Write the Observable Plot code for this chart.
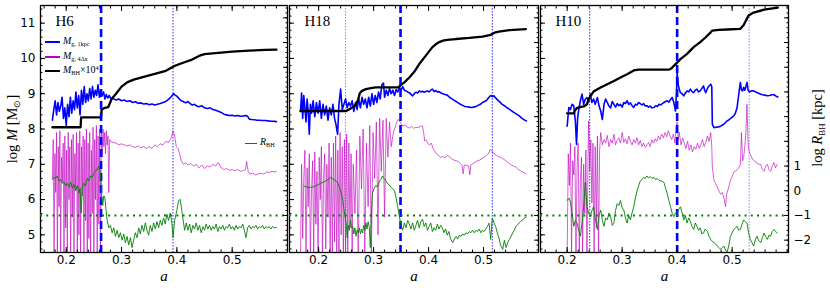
<!DOCTYPE html>
<html><head><meta charset="utf-8">
<script src="https://cdn.jsdelivr.net/npm/d3@7"></script>
<script src="https://cdn.jsdelivr.net/npm/@observablehq/plot@0.6"></script>
<style>
html,body{margin:0;padding:0;background:#fff;}
#root{position:relative;width:830px;height:288px;overflow:hidden;}
#root svg{position:absolute;top:0;}
.t{position:absolute;font-family:"Liberation Serif",serif;color:#000;white-space:nowrap;line-height:1.2;}
.sub{font-size:0.62em;position:relative;top:0.3em}
.sup{font-size:0.62em;position:relative;top:-0.55em}
.rot{transform:translate(-50%,-50%) rotate(-90deg);}
</style></head><body><div id="root"></div>
<script>
// ---------- tick values ----------
const X_TICKS = [0.2, 0.3, 0.4, 0.5];
const M_TICKS = [5, 6, 7, 8, 9, 10, 11];
const R_TICKS = [-2, -1, 0, 1, 2, 3, 4, 5, 6, 7];
const R_LABELED = [-2, -1, 0, 1];
const R_THRESHOLD = [-1];

// ---------- H6 ----------
const H6_BLACK = [[0.175,8.05],[0.226,8.05],[0.227,8.33],[0.263,8.33],[0.264,8.55],[0.27,8.6],[0.276,8.62],[0.282,8.85],[0.29,9.0],[0.3,9.2],[0.31,9.32],[0.322,9.4],[0.34,9.48],[0.36,9.56],[0.38,9.65],[0.395,9.78],[0.41,9.87],[0.425,9.95],[0.44,10.07],[0.45,10.12],[0.47,10.15],[0.5,10.19],[0.53,10.22],[0.56,10.24],[0.58,10.25]];
const H6_BLUE = [[0.175,8.25],[0.1775,8.55],[0.18,8.8],[0.1825,8.4],[0.185,8.75],[0.1875,8.5],[0.19,8.65],[0.1925,8.9],[0.195,8.3],[0.1975,8.6],[0.2,8.1],[0.2025,8.7],[0.205,8.35],[0.2075,8.9],[0.21,8.45],[0.2125,8.8],[0.215,8.55],[0.2175,9.05],[0.22,8.6],[0.2225,8.95],[0.225,8.4],[0.2275,9.1],[0.23,8.7],[0.2325,9.2],[0.235,8.75],[0.2375,9.0],[0.24,8.8],[0.2425,9.15],[0.245,8.85],[0.2475,9.2],[0.25,8.9],[0.2525,9.1],[0.255,8.95],[0.2575,9.25],[0.26,8.9],[0.2625,9.1],[0.265,8.95],[0.2675,9.05],[0.27,8.85],[0.2725,8.98],[0.275,8.88],[0.278,8.95],[0.281,8.84],[0.285,8.87],[0.29,8.82],[0.295,8.85],[0.3,8.8],[0.305,8.82],[0.31,8.78],[0.315,8.8],[0.32,8.75],[0.325,8.77],[0.33,8.73],[0.335,8.74],[0.34,8.71],[0.345,8.72],[0.35,8.69],[0.355,8.71],[0.36,8.68],[0.365,8.7],[0.37,8.72],[0.375,8.75],[0.38,8.78],[0.385,8.84],[0.39,8.92],[0.394,9.0],[0.397,8.96],[0.4,8.93],[0.404,8.86],[0.408,8.8],[0.412,8.77],[0.416,8.74],[0.42,8.78],[0.424,8.72],[0.428,8.68],[0.432,8.7],[0.436,8.65],[0.44,8.63],[0.445,8.66],[0.45,8.6],[0.455,8.58],[0.46,8.6],[0.465,8.55],[0.47,8.53],[0.475,8.5],[0.48,8.47],[0.485,8.42],[0.49,8.4],[0.495,8.38],[0.5,8.39],[0.505,8.37],[0.51,8.38],[0.515,8.36],[0.52,8.37],[0.525,8.38],[0.528,8.36],[0.531,8.28],[0.535,8.27],[0.54,8.26],[0.545,8.25],[0.55,8.25],[0.555,8.24],[0.56,8.24],[0.565,8.23],[0.57,8.22],[0.575,8.22],[0.58,8.21]];
const H6_MAGENTA = [[0.175,6.6],[0.1765,7.7],[0.178,4.4],[0.1795,7.3],[0.181,6.2],[0.1825,7.9],[0.184,4.3],[0.1855,7.5],[0.187,5.8],[0.1885,7.95],[0.19,4.4],[0.1915,7.2],[0.193,6.5],[0.1945,7.6],[0.196,4.5],[0.1975,7.8],[0.199,5.2],[0.2005,7.4],[0.202,4.4],[0.2035,7.9],[0.205,6.0],[0.2065,7.5],[0.208,4.3],[0.2095,7.7],[0.211,5.5],[0.2125,7.85],[0.214,4.4],[0.2155,7.3],[0.217,6.3],[0.2185,7.9],[0.22,4.3],[0.2215,7.6],[0.223,5.0],[0.2245,7.95],[0.226,4.4],[0.2275,7.5],[0.229,6.1],[0.2305,7.8],[0.232,4.3],[0.2335,7.7],[0.235,5.4],[0.2365,8.0],[0.238,4.4],[0.2395,7.6],[0.241,4.9],[0.2425,7.9],[0.244,4.3],[0.2455,7.4],[0.247,5.6],[0.2485,8.05],[0.25,4.4],[0.2515,7.7],[0.253,6.0],[0.2545,8.1],[0.256,4.3],[0.2575,7.8],[0.259,5.3],[0.2605,8.0],[0.262,4.4],[0.2635,7.9],[0.265,7.2],[0.2665,8.0],[0.268,7.5],[0.2695,7.9],[0.271,7.3],[0.2725,7.95],[0.274,7.55],[0.2755,7.8],[0.277,6.2],[0.2785,7.7],[0.28,7.65],[0.285,7.62],[0.29,7.6],[0.295,7.55],[0.3,7.58],[0.305,7.55],[0.31,7.52],[0.315,7.55],[0.32,7.5],[0.325,7.48],[0.33,7.52],[0.335,7.47],[0.34,7.5],[0.345,7.45],[0.35,7.5],[0.355,7.45],[0.36,7.55],[0.365,7.5],[0.37,7.58],[0.375,7.55],[0.38,7.65],[0.385,7.62],[0.39,7.75],[0.393,7.95],[0.396,7.8],[0.399,7.5],[0.402,7.45],[0.405,7.3],[0.408,7.1],[0.412,7.0],[0.416,7.05],[0.42,6.98],[0.425,7.02],[0.43,6.95],[0.435,7.0],[0.44,6.9],[0.445,6.98],[0.45,6.88],[0.455,6.95],[0.46,6.92],[0.465,7.0],[0.47,6.95],[0.475,7.05],[0.48,6.9],[0.485,6.85],[0.49,6.88],[0.495,6.83],[0.5,6.85],[0.505,6.82],[0.51,6.85],[0.515,6.8],[0.52,6.82],[0.524,6.85],[0.526,7.08],[0.529,6.8],[0.532,6.72],[0.537,6.75],[0.542,6.7],[0.547,6.73],[0.552,6.75],[0.557,6.72],[0.562,6.78],[0.567,6.77],[0.572,6.8],[0.577,6.78],[0.58,6.8]];
const H6_GREEN = [[0.175,0.45],[0.178,0.55],[0.181,0.5],[0.184,0.6],[0.187,0.4],[0.19,0.45],[0.193,0.3],[0.196,0.35],[0.199,0.2],[0.202,0.3],[0.205,0.15],[0.208,0.35],[0.211,0.1],[0.214,0.25],[0.217,0.0],[0.22,0.2],[0.223,-0.1],[0.225,0.1],[0.227,-0.9],[0.229,0.15],[0.232,0.3],[0.235,0.2],[0.238,0.5],[0.241,0.4],[0.244,0.6],[0.247,0.55],[0.25,0.7],[0.253,0.8],[0.256,0.85],[0.259,1.0],[0.262,0.7],[0.264,-0.2],[0.266,-0.6],[0.268,-0.2],[0.27,-0.3],[0.272,-0.8],[0.274,-1.2],[0.277,-1.5],[0.28,-1.4],[0.283,-1.7],[0.286,-1.5],[0.289,-1.85],[0.292,-1.6],[0.295,-1.9],[0.298,-1.7],[0.301,-2.0],[0.304,-1.75],[0.307,-2.1],[0.31,-1.85],[0.313,-2.2],[0.316,-1.9],[0.319,-2.3],[0.322,-2.0],[0.325,-1.7],[0.328,-1.9],[0.331,-1.5],[0.334,-1.75],[0.337,-1.4],[0.34,-1.65],[0.343,-1.3],[0.346,-1.6],[0.349,-1.8],[0.352,-1.4],[0.355,-1.65],[0.358,-1.3],[0.361,-1.55],[0.364,-1.25],[0.367,-1.5],[0.37,-1.2],[0.373,-1.4],[0.376,-1.1],[0.379,-1.35],[0.382,-0.95],[0.385,-1.2],[0.388,-0.9],[0.391,-1.3],[0.393,-1.9],[0.396,-1.2],[0.4,-0.8],[0.403,-0.4],[0.406,-0.35],[0.409,-0.8],[0.412,-1.3],[0.414,-1.6],[0.417,-1.3],[0.42,-1.6],[0.423,-1.35],[0.426,-1.7],[0.429,-1.4],[0.432,-1.55],[0.435,-1.3],[0.438,-1.6],[0.441,-1.4],[0.444,-1.7],[0.447,-1.45],[0.45,-1.6],[0.453,-1.35],[0.456,-1.55],[0.459,-1.4],[0.462,-1.6],[0.465,-1.45],[0.468,-1.55],[0.471,-1.35],[0.474,-1.65],[0.477,-1.45],[0.48,-1.55],[0.483,-1.4],[0.486,-1.6],[0.489,-1.45],[0.492,-1.5],[0.495,-1.35],[0.498,-1.55],[0.501,-1.45],[0.504,-1.6],[0.507,-1.4],[0.51,-1.55],[0.513,-1.45],[0.516,-1.5],[0.519,-1.35],[0.522,-1.6],[0.525,-1.9],[0.528,-1.5],[0.531,-1.4],[0.534,-1.55],[0.537,-1.45],[0.54,-1.5],[0.543,-1.4],[0.546,-1.55],[0.549,-1.45],[0.552,-1.5],[0.555,-1.4],[0.558,-1.55],[0.561,-1.45],[0.564,-1.5],[0.567,-1.45],[0.57,-1.55],[0.573,-1.45],[0.576,-1.5],[0.58,-1.48]];

// ---------- H18 ----------
const H18_BLACK = [[0.167,8.51],[0.25,8.51],[0.256,8.56],[0.262,8.62],[0.268,8.7],[0.272,8.84],[0.275,9.02],[0.279,9.08],[0.286,9.13],[0.295,9.16],[0.304,9.18],[0.345,9.18],[0.35,9.25],[0.356,9.32],[0.365,9.46],[0.374,9.62],[0.383,9.84],[0.395,10.08],[0.407,10.32],[0.413,10.4],[0.419,10.46],[0.428,10.51],[0.438,10.53],[0.45,10.55],[0.474,10.58],[0.498,10.62],[0.513,10.67],[0.52,10.73],[0.528,10.76],[0.547,10.8],[0.577,10.83]];
const H18_BLUE = [[0.167,8.5],[0.169,9.02],[0.171,8.3],[0.173,8.95],[0.175,8.6],[0.177,8.2],[0.179,8.85],[0.181,8.5],[0.183,7.85],[0.185,8.7],[0.187,8.45],[0.19,8.8],[0.193,8.35],[0.196,8.75],[0.199,8.45],[0.202,8.8],[0.205,8.3],[0.208,8.7],[0.211,8.4],[0.214,8.65],[0.217,8.25],[0.22,8.6],[0.223,8.4],[0.226,8.7],[0.229,8.3],[0.2315,8.13],[0.2345,7.85],[0.237,8.7],[0.24,9.13],[0.243,8.55],[0.246,8.7],[0.249,8.85],[0.252,8.6],[0.255,8.75],[0.258,8.65],[0.261,8.8],[0.264,8.5],[0.267,8.75],[0.27,8.55],[0.273,8.85],[0.276,8.6],[0.279,8.9],[0.282,8.7],[0.285,8.85],[0.288,8.6],[0.291,8.9],[0.294,8.65],[0.297,9.0],[0.3,8.7],[0.303,8.95],[0.306,8.75],[0.309,9.05],[0.312,8.85],[0.315,9.25],[0.318,9.3],[0.32,8.9],[0.323,9.1],[0.326,8.95],[0.329,9.15],[0.332,9.0],[0.335,9.1],[0.338,8.95],[0.341,9.12],[0.344,9.05],[0.347,9.18],[0.35,9.1],[0.353,9.2],[0.356,9.1],[0.359,9.08],[0.362,9.05],[0.365,9.03],[0.368,8.98],[0.371,8.94],[0.374,9.0],[0.377,9.04],[0.38,9.02],[0.383,9.08],[0.386,9.05],[0.389,9.07],[0.392,9.04],[0.395,9.06],[0.398,9.08],[0.401,9.05],[0.404,9.1],[0.407,9.13],[0.41,9.06],[0.413,9.09],[0.416,9.05],[0.419,9.06],[0.422,9.03],[0.426,9.0],[0.43,8.98],[0.434,8.96],[0.438,8.9],[0.442,8.86],[0.446,8.82],[0.45,8.78],[0.454,8.74],[0.458,8.7],[0.462,8.67],[0.466,8.64],[0.47,8.63],[0.474,8.62],[0.478,8.61],[0.482,8.62],[0.486,8.64],[0.49,8.67],[0.494,8.7],[0.498,8.75],[0.502,8.78],[0.506,8.82],[0.51,8.9],[0.513,8.95],[0.516,8.92],[0.519,8.94],[0.522,8.88],[0.526,8.82],[0.53,8.76],[0.534,8.7],[0.538,8.66],[0.542,8.61],[0.546,8.57],[0.55,8.53],[0.555,8.47],[0.56,8.42],[0.565,8.37],[0.57,8.3],[0.575,8.25],[0.578,8.23]];
const H18_MAGENTA = [[0.167,4.4],[0.169,7.0],[0.171,4.9],[0.173,6.6],[0.175,7.4],[0.177,4.4],[0.179,6.9],[0.181,5.8],[0.183,7.3],[0.185,4.4],[0.187,6.2],[0.189,7.1],[0.191,4.5],[0.193,7.35],[0.195,5.3],[0.197,6.8],[0.199,4.4],[0.201,7.2],[0.203,6.0],[0.205,7.5],[0.207,4.3],[0.209,6.6],[0.211,7.3],[0.213,4.6],[0.215,7.0],[0.217,5.5],[0.219,7.6],[0.221,4.3],[0.223,7.2],[0.225,4.4],[0.227,7.6],[0.229,4.8],[0.231,7.8],[0.233,4.3],[0.235,7.4],[0.237,4.4],[0.239,7.9],[0.241,5.0],[0.243,7.5],[0.245,4.3],[0.247,7.7],[0.249,4.4],[0.251,7.85],[0.253,4.5],[0.255,7.6],[0.257,5.2],[0.259,7.3],[0.261,4.4],[0.263,7.0],[0.266,5.6],[0.269,7.4],[0.272,4.4],[0.275,7.8],[0.278,6.3],[0.281,8.0],[0.284,4.5],[0.287,7.6],[0.29,5.8],[0.293,8.1],[0.296,4.4],[0.299,7.9],[0.302,6.6],[0.305,8.2],[0.308,5.0],[0.311,8.3],[0.314,6.8],[0.317,8.25],[0.32,5.5],[0.323,8.3],[0.326,7.2],[0.329,8.2],[0.332,7.5],[0.336,7.9],[0.34,8.1],[0.344,8.27],[0.347,8.23],[0.35,8.15],[0.353,8.08],[0.357,8.12],[0.361,8.05],[0.365,8.03],[0.369,8.07],[0.373,8.02],[0.377,8.05],[0.381,8.04],[0.385,8.08],[0.389,8.08],[0.391,7.9],[0.393,7.66],[0.396,7.68],[0.399,7.58],[0.402,7.55],[0.405,7.6],[0.408,7.45],[0.411,7.38],[0.414,7.3],[0.418,7.25],[0.422,7.2],[0.426,7.22],[0.43,7.18],[0.434,7.25],[0.438,7.22],[0.442,7.15],[0.446,7.12],[0.45,7.1],[0.454,7.08],[0.458,7.02],[0.461,6.97],[0.463,6.73],[0.465,6.98],[0.469,6.97],[0.473,6.95],[0.475,6.7],[0.477,6.98],[0.481,7.02],[0.485,7.06],[0.489,7.1],[0.493,7.12],[0.497,7.16],[0.501,7.2],[0.505,7.25],[0.509,7.3],[0.512,7.42],[0.515,7.38],[0.519,7.3],[0.523,7.26],[0.527,7.22],[0.531,7.2],[0.535,7.16],[0.539,7.12],[0.543,7.06],[0.547,7.02],[0.551,6.98],[0.555,6.95],[0.559,6.92],[0.563,6.85],[0.567,6.82],[0.571,6.78],[0.575,6.75],[0.577,6.73]];
const H18_GREEN = [[0.173,0.2],[0.177,0.16],[0.181,0.13],[0.185,0.14],[0.189,0.15],[0.193,0.18],[0.197,0.22],[0.201,0.27],[0.205,0.32],[0.209,0.35],[0.213,0.4],[0.217,0.45],[0.222,0.54],[0.226,0.48],[0.23,0.42],[0.234,0.35],[0.238,0.14],[0.241,-0.1],[0.244,-0.4],[0.247,-0.9],[0.25,-1.31],[0.252,-1.9],[0.254,-1.4],[0.256,-1.6],[0.258,-1.2],[0.26,-1.5],[0.262,-1.44],[0.264,-1.75],[0.266,-1.5],[0.268,-1.84],[0.27,-1.6],[0.272,-1.7],[0.274,-1.5],[0.276,-1.75],[0.278,-1.55],[0.28,-1.71],[0.282,-1.4],[0.284,-1.6],[0.286,-1.3],[0.288,-1.55],[0.29,-1.25],[0.292,-1.45],[0.294,-2.3],[0.296,-0.9],[0.298,-0.1],[0.301,0.1],[0.304,0.22],[0.307,0.15],[0.31,0.35],[0.313,0.45],[0.316,0.6],[0.319,0.5],[0.322,0.42],[0.325,0.3],[0.328,0.25],[0.331,0.15],[0.334,0.1],[0.338,0.0],[0.341,-0.3],[0.344,-0.65],[0.347,-1.05],[0.35,-1.4],[0.353,-1.6],[0.356,-1.3],[0.359,-1.5],[0.362,-1.2],[0.365,-1.35],[0.368,-1.55],[0.371,-1.3],[0.374,-1.6],[0.377,-1.4],[0.38,-1.2],[0.383,-1.5],[0.386,-1.25],[0.389,-1.15],[0.392,-1.45],[0.395,-1.3],[0.398,-1.6],[0.401,-1.45],[0.404,-1.3],[0.407,-1.65],[0.41,-1.5],[0.413,-1.6],[0.416,-1.35],[0.419,-1.55],[0.422,-1.4],[0.425,-1.5],[0.428,-1.7],[0.431,-1.55],[0.434,-1.8],[0.437,-1.65],[0.44,-1.95],[0.444,-2.1],[0.447,-1.95],[0.45,-1.85],[0.453,-1.95],[0.456,-1.8],[0.459,-1.85],[0.462,-1.75],[0.465,-1.8],[0.468,-1.7],[0.471,-1.75],[0.474,-1.65],[0.477,-1.7],[0.48,-1.6],[0.483,-1.7],[0.486,-1.6],[0.489,-1.65],[0.492,-1.55],[0.495,-1.7],[0.498,-1.6],[0.501,-1.65],[0.504,-1.55],[0.507,-1.45],[0.51,-1.31],[0.513,-1.97],[0.516,-1.11],[0.519,-1.3],[0.522,-1.45],[0.525,-1.7],[0.528,-1.9],[0.531,-2.2],[0.535,-2.37],[0.538,-2.0],[0.541,-2.3],[0.544,-2.1],[0.547,-1.97],[0.55,-1.85],[0.553,-1.71],[0.556,-1.6],[0.559,-1.44],[0.563,-1.35],[0.567,-1.25],[0.571,-1.18],[0.574,-1.12],[0.577,-1.07]];

// ---------- H10 ----------
const H10_BLACK = [[0.2,8.44],[0.212,8.44],[0.214,8.52],[0.218,8.6],[0.23,8.64],[0.236,8.7],[0.239,8.84],[0.243,8.95],[0.248,9.06],[0.26,9.17],[0.273,9.27],[0.285,9.36],[0.297,9.46],[0.31,9.56],[0.321,9.66],[0.33,9.68],[0.385,9.68],[0.39,9.72],[0.394,9.79],[0.4,9.88],[0.406,9.98],[0.418,10.13],[0.43,10.32],[0.442,10.46],[0.452,10.6],[0.461,10.74],[0.464,10.79],[0.475,10.81],[0.491,10.82],[0.515,10.84],[0.521,10.95],[0.526,11.1],[0.53,11.22],[0.539,11.3],[0.558,11.38],[0.583,11.44]];
const H10_BLUE = [[0.2,8.08],[0.203,8.61],[0.206,8.55],[0.209,8.7],[0.212,8.66],[0.215,8.2],[0.217,7.56],[0.219,8.3],[0.221,8.55],[0.224,8.8],[0.227,8.99],[0.23,8.7],[0.233,8.85],[0.236,8.89],[0.239,8.78],[0.242,8.99],[0.245,8.75],[0.248,8.85],[0.251,8.7],[0.255,8.89],[0.258,8.65],[0.261,8.51],[0.264,8.27],[0.267,8.7],[0.27,8.85],[0.273,8.75],[0.276,8.65],[0.279,8.6],[0.282,8.78],[0.285,8.7],[0.288,8.62],[0.291,8.72],[0.294,8.66],[0.297,8.7],[0.3,8.62],[0.303,8.75],[0.306,8.72],[0.309,8.8],[0.312,8.7],[0.315,8.74],[0.318,8.66],[0.321,8.61],[0.324,8.7],[0.327,8.68],[0.33,8.75],[0.333,8.72],[0.336,8.68],[0.339,8.72],[0.342,8.65],[0.345,8.66],[0.348,8.62],[0.351,8.65],[0.354,8.6],[0.358,8.61],[0.361,8.66],[0.364,8.64],[0.367,8.7],[0.37,8.68],[0.373,8.72],[0.376,8.75],[0.379,8.78],[0.382,8.8],[0.385,8.76],[0.388,8.84],[0.391,8.89],[0.394,8.75],[0.397,8.51],[0.399,9.1],[0.4,9.6],[0.402,9.25],[0.404,9.12],[0.406,9.03],[0.409,9.0],[0.412,8.94],[0.415,9.02],[0.418,9.08],[0.421,9.05],[0.424,9.13],[0.427,9.06],[0.43,9.03],[0.433,9.1],[0.436,9.13],[0.439,9.05],[0.442,9.08],[0.445,9.15],[0.448,9.22],[0.45,9.1],[0.452,9.03],[0.455,9.15],[0.458,9.22],[0.461,9.27],[0.463,9.2],[0.464,8.13],[0.467,8.04],[0.471,8.05],[0.475,8.06],[0.479,8.08],[0.483,8.12],[0.487,8.17],[0.491,8.23],[0.495,8.27],[0.499,8.32],[0.503,8.37],[0.506,8.45],[0.509,8.61],[0.511,8.85],[0.513,9.1],[0.515,9.32],[0.517,9.1],[0.519,9.08],[0.521,9.18],[0.523,9.1],[0.525,9.2],[0.527,9.32],[0.529,9.1],[0.531,9.05],[0.535,9.08],[0.539,9.08],[0.543,9.05],[0.547,9.02],[0.551,8.99],[0.555,8.97],[0.559,8.96],[0.564,8.94],[0.568,8.95],[0.572,8.97],[0.576,8.97],[0.58,8.93],[0.583,8.91]];
const H10_MAGENTA = [[0.2,4.4],[0.202,7.3],[0.204,6.4],[0.206,7.6],[0.208,4.4],[0.21,7.1],[0.212,6.7],[0.214,7.5],[0.216,4.4],[0.218,6.9],[0.22,7.6],[0.222,4.3],[0.224,6.5],[0.226,7.2],[0.228,4.4],[0.23,7.0],[0.232,5.6],[0.234,7.4],[0.236,4.4],[0.238,7.3],[0.239,8.23],[0.241,6.8],[0.243,7.7],[0.245,5.9],[0.247,7.6],[0.249,4.4],[0.251,7.5],[0.253,5.2],[0.255,7.8],[0.257,4.4],[0.259,7.4],[0.261,7.9],[0.264,7.55],[0.267,7.7],[0.27,7.6],[0.273,7.82],[0.276,7.5],[0.279,7.7],[0.282,7.6],[0.285,7.85],[0.288,7.55],[0.291,7.68],[0.294,7.75],[0.297,7.6],[0.3,7.9],[0.303,7.62],[0.306,7.72],[0.309,7.58],[0.312,7.8],[0.315,7.65],[0.318,7.55],[0.321,7.7],[0.324,7.6],[0.327,7.75],[0.33,7.55],[0.333,7.68],[0.336,7.5],[0.339,7.6],[0.342,7.48],[0.345,7.55],[0.348,7.62],[0.351,7.5],[0.354,7.7],[0.357,7.6],[0.36,7.72],[0.363,7.65],[0.366,7.8],[0.369,7.7],[0.372,7.85],[0.375,7.75],[0.378,7.9],[0.381,7.78],[0.384,7.95],[0.387,7.8],[0.39,7.7],[0.393,7.85],[0.396,7.6],[0.398,8.05],[0.4,8.2],[0.402,7.7],[0.404,7.9],[0.407,7.55],[0.41,7.75],[0.413,7.6],[0.416,7.45],[0.419,7.65],[0.422,7.4],[0.425,7.55],[0.428,7.35],[0.431,7.5],[0.434,7.42],[0.437,7.6],[0.44,7.45],[0.443,7.55],[0.446,7.7],[0.449,7.5],[0.452,7.62],[0.455,7.8],[0.458,7.65],[0.461,7.9],[0.463,7.5],[0.464,6.92],[0.467,6.55],[0.47,6.45],[0.473,6.36],[0.476,6.25],[0.479,6.15],[0.482,6.2],[0.485,6.05],[0.488,5.8],[0.49,6.15],[0.493,6.3],[0.496,6.5],[0.5,6.65],[0.503,6.78],[0.506,6.8],[0.509,6.85],[0.512,6.9],[0.515,7.0],[0.517,7.9],[0.519,7.1],[0.521,7.2],[0.523,7.5],[0.525,7.9],[0.527,8.7],[0.529,7.6],[0.531,7.35],[0.534,7.25],[0.537,7.15],[0.54,7.1],[0.544,7.05],[0.548,7.0],[0.552,7.0],[0.555,6.85],[0.558,6.8],[0.561,6.95],[0.564,7.0],[0.567,6.85],[0.57,6.8],[0.573,6.95],[0.576,7.05],[0.579,6.9],[0.582,7.0]];
const H10_GREEN = [[0.2,-0.39],[0.203,-0.3],[0.206,-0.45],[0.209,-0.9],[0.212,-1.44],[0.215,-1.2],[0.218,-1.31],[0.221,-1.6],[0.224,-1.84],[0.227,-1.3],[0.23,-0.65],[0.233,0.34],[0.236,-0.65],[0.239,-0.9],[0.242,-1.05],[0.245,-0.8],[0.248,-0.65],[0.251,-1.1],[0.255,-1.57],[0.258,-1.0],[0.261,-0.78],[0.264,-1.2],[0.267,-1.44],[0.27,-1.1],[0.273,-1.18],[0.276,-0.9],[0.279,-1.05],[0.282,-1.4],[0.285,-1.31],[0.288,-0.8],[0.291,-0.52],[0.294,-0.6],[0.297,-0.39],[0.3,-0.7],[0.303,-0.78],[0.306,-1.1],[0.309,-1.31],[0.312,-1.0],[0.315,-1.18],[0.318,-0.9],[0.321,-0.65],[0.324,-0.3],[0.327,0.0],[0.33,0.2],[0.333,0.4],[0.336,0.45],[0.339,0.54],[0.342,0.5],[0.345,0.6],[0.348,0.52],[0.351,0.58],[0.354,0.5],[0.358,0.54],[0.361,0.45],[0.364,0.5],[0.367,0.42],[0.37,0.4],[0.373,0.38],[0.376,0.34],[0.379,0.1],[0.382,-0.12],[0.385,-0.4],[0.388,-0.65],[0.391,-0.92],[0.394,-1.05],[0.397,-0.9],[0.4,-0.92],[0.403,-0.75],[0.406,-0.65],[0.409,-0.9],[0.412,-1.18],[0.415,-1.0],[0.418,-1.31],[0.421,-1.1],[0.424,-1.24],[0.427,-1.45],[0.43,-1.57],[0.433,-1.3],[0.436,-1.44],[0.439,-1.6],[0.442,-1.5],[0.445,-1.75],[0.448,-1.71],[0.451,-1.55],[0.455,-1.64],[0.458,-1.85],[0.461,-1.97],[0.464,-2.05],[0.467,-2.1],[0.47,-2.15],[0.473,-2.24],[0.476,-2.3],[0.479,-2.37],[0.482,-2.3],[0.485,-2.24],[0.488,-2.4],[0.491,-2.5],[0.494,-2.2],[0.497,-1.84],[0.5,-1.7],[0.503,-1.57],[0.506,-1.5],[0.509,-1.44],[0.512,-1.6],[0.515,-1.57],[0.518,-1.35],[0.521,-1.18],[0.524,-1.25],[0.527,-1.31],[0.53,-1.7],[0.533,-1.97],[0.536,-2.1],[0.539,-2.24],[0.542,-2.0],[0.545,-1.84],[0.548,-2.0],[0.552,-2.1],[0.555,-1.9],[0.558,-1.71],[0.561,-1.85],[0.564,-1.97],[0.567,-1.8],[0.57,-1.84],[0.573,-1.65],[0.576,-1.57],[0.579,-1.65],[0.582,-1.71]];

// ---------- event markers (a) ----------
const H6_DASHED = [0.263], H6_DOTTED = [0.393], H6_DOTTED_LIGHT = [];
const H18_DASHED = [0.349], H18_DOTTED = [0.516], H18_DOTTED_LIGHT = [0.249];
const H10_DASHED = [0.4], H10_DOTTED = [0.241], H10_DOTTED_LIGHT = [0.531];

const PANELS = [
  {name:"H6", left:40, fw:247, xdom:[0.1535,0.6], black:H6_BLACK, blue:H6_BLUE, magenta:H6_MAGENTA, green:H6_GREEN, dashed:H6_DASHED, dotted:H6_DOTTED, dottedLight:H6_DOTTED_LIGHT, leftLabels:true, rightLabels:false},
  {name:"H18", left:289, fw:249, xdom:[0.147,0.6], black:H18_BLACK, blue:H18_BLUE, magenta:H18_MAGENTA, green:H18_GREEN, dashed:H18_DASHED, dotted:H18_DOTTED, dottedLight:H18_DOTTED_LIGHT, leftLabels:false, rightLabels:false},
  {name:"H10", left:540, fw:248, xdom:[0.1515,0.6025], black:H10_BLACK, blue:H10_BLUE, magenta:H10_MAGENTA, green:H10_GREEN, dashed:H10_DASHED, dotted:H10_DOTTED, dottedLight:H10_DOTTED_LIGHT, leftLabels:false, rightLabels:true}
];

const ML = 40, MR = 45, MT = 5, MB = 36, H = 288;
const BLUE = "#0000ff", MAG = "#bf00bf", GREEN = "#008000";
const minus = d => d < 0 ? "\u2212" + Math.abs(d) : String(d);
const xMinor = d3.range(0.16, 0.6001, 0.02).map(v => +v.toFixed(2));
const mMinor = d3.range(4.6, 11.5, 0.2).map(v => +v.toFixed(1));
const rMinor = d3.range(-2.4, 7.5, 0.2).map(v => +v.toFixed(1));
const X = d => d[0], Y = d => d[1];
const style = {background:"none", fontFamily:"DejaVu Sans", fontSize:"12px", color:"black", overflow:"visible"};
const TICKS_ONLY = {fill:"none", label:null};

const root = document.getElementById("root");

for (const p of PANELS) {
  const common = {
    width: ML + p.fw + MR, height: H,
    marginTop: MT, marginBottom: MB, marginLeft: ML, marginRight: MR,
    style
  };
  const xAxes = [
    Plot.axisX(X_TICKS, {anchor:"bottom", tickSize:-5, tickPadding:8, tickFormat: d => d.toFixed(1), label:null}),
    Plot.axisX(xMinor, {anchor:"bottom", tickSize:-2.5, ...TICKS_ONLY}),
    Plot.axisX(X_TICKS, {anchor:"top", tickSize:-5, ...TICKS_ONLY}),
    Plot.axisX(xMinor, {anchor:"top", tickSize:-2.5, ...TICKS_ONLY})
  ];
  const m = Plot.plot({
    ...common,
    x: {domain: p.xdom},
    y: {domain:[4.5, 11.5]},
    marks: [
      Plot.ruleX(p.dottedLight, {stroke: BLUE, strokeOpacity:0.45, strokeWidth:1, strokeDasharray:"1.6,1.4"}),
      Plot.ruleX(p.dotted, {stroke: BLUE, strokeWidth:0.8, strokeDasharray:"1.6,1.4"}),
      Plot.line(p.magenta, {x:X, y:Y, stroke:MAG, strokeWidth:0.85, strokeOpacity:0.75, clip:true}),
      Plot.line(p.blue, {x:X, y:Y, stroke:BLUE, strokeWidth:1.6, clip:true}),
      Plot.line(p.black, {x:X, y:Y, stroke:"black", strokeWidth:2.3, clip:true}),
      Plot.ruleX(p.dashed, {stroke: BLUE, strokeWidth:2.6, strokeDasharray:"8,4"}),
      Plot.text([p.name], {frameAnchor:"top-left", dx:15, dy:16, textAnchor:"start", lineAnchor:"middle", fontFamily:"Liberation Serif", fontSize:15}),
      Plot.text(["a"], {frameAnchor:"bottom", dy:24, lineAnchor:"middle", fontFamily:"Liberation Serif", fontStyle:"italic", fontSize:15}),
      p.leftLabels
        ? Plot.axisY(M_TICKS, {anchor:"left", tickSize:-5, tickPadding:10, tickFormat: String, label:null})
        : Plot.axisY(M_TICKS, {anchor:"left", tickSize:-5, ...TICKS_ONLY}),
      Plot.axisY(mMinor, {anchor:"left", tickSize:-2.5, ...TICKS_ONLY}),
      ...xAxes,
      Plot.frame({stroke:"black", strokeWidth:1.3})
    ]
  });
  m.style.left = (p.left - ML) + "px";
  root.appendChild(m);

  const r = Plot.plot({
    ...common,
    x: {domain: p.xdom, axis: null},
    y: {domain:[-2.5, 7.5]},
    marks: [
      Plot.ruleY(R_THRESHOLD, {stroke:GREEN, strokeWidth:2, strokeDasharray:"2,4.2"}),
      Plot.line(p.green, {x:X, y:Y, stroke:GREEN, strokeWidth:0.9, clip:true}),
      p.rightLabels
        ? Plot.axisY(R_TICKS, {anchor:"right", tickSize:-5, tickPadding:10, tickFormat: d => R_LABELED.includes(d) ? minus(d) : "", label:null})
        : Plot.axisY(R_TICKS, {anchor:"right", tickSize:-5, ...TICKS_ONLY}),
      Plot.axisY(rMinor, {anchor:"right", tickSize:-2.5, ...TICKS_ONLY})
    ]
  });
  r.style.left = (p.left - ML) + "px";
  root.appendChild(r);
}

// ---------- legend & axis titles (HTML text) ----------
function addText(html, left, top, size, cls) {
  const d = document.createElement("div");
  d.className = "t" + (cls ? " " + cls : "");
  d.style.left = left + "px"; d.style.top = top + "px"; d.style.fontSize = size + "px";
  d.innerHTML = html;
  root.appendChild(d);
  return d;
}
function addSwatch(left, top, w, h, color) {
  const d = document.createElement("div");
  d.style.cssText = `position:absolute;left:${left}px;top:${top}px;width:${w}px;height:${h}px;background:${color};`;
  root.appendChild(d);
}
const LEGEND = [
  {y:42, color:BLUE, h:1.6, html:'<i>M</i><span class="sub">g, 1kpc</span>'},
  {y:57, color:MAG, h:1.1, html:'<i>M</i><span class="sub">g, 4\u0394x</span>'},
  {y:71, color:"black", h:2.4, html:'<i>M</i><span class="sub">BH</span>\u00d710<span class="sup">4</span>'}
];
for (const e of LEGEND) {
  addSwatch(45, e.y - e.h/2, 15, e.h, e.color);
  addText(e.html, 63, e.y - 7, 10);
}
addSwatch(245, 142.5, 12, 1, GREEN);
addText('<i>R</i><span class="sub">BH</span>', 260, 136, 10);

addText('log <i>M</i> [M<span class="sub">\u2299</span>]', 13, 129, 14.5, "rot");
addText('log <i>R</i><span class="sub">BH</span> [kpc]', 818, 128, 14.5, "rot");
</script></body></html>
